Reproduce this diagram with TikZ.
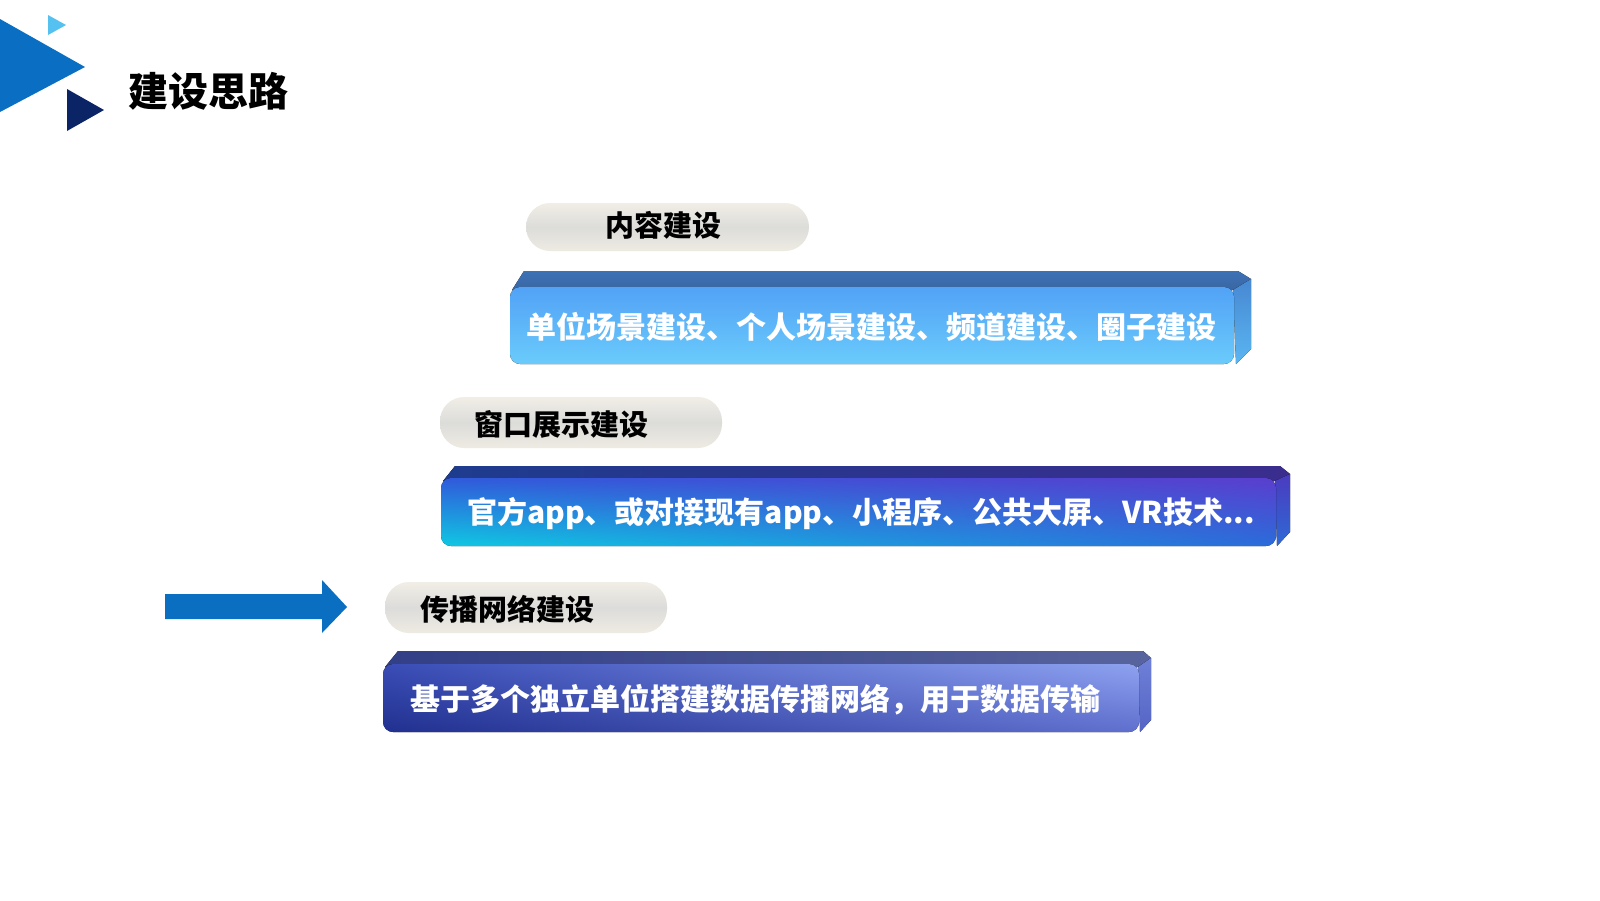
\documentclass[tikz,border=0pt]{standalone}
\usepackage{fontspec}
\setmainfont{Noto Sans CJK SC}
\usetikzlibrary{shadings}
\definecolor{tribig}{HTML}{0A6FC2}
\definecolor{trilight}{HTML}{55C1F0}
\definecolor{tridark}{HTML}{0B2466}
\definecolor{arrowblue}{HTML}{0A6FC0}
\definecolor{pilltop}{HTML}{F1EEE6}
\definecolor{pillmid}{HTML}{DCDCDA}
\definecolor{pillbot}{HTML}{EEEBE2}
% bar 1
\definecolor{aTopA}{HTML}{3D72B6}
\definecolor{aTopB}{HTML}{3A66A2}
\definecolor{aSideA}{HTML}{4788D2}
\definecolor{aSideB}{HTML}{5AB6F2}
\definecolor{aFrontA}{HTML}{52A2F6}
\definecolor{aFrontB}{HTML}{6ACBFB}
% bar 2
\definecolor{bTopA}{HTML}{1E3C8E}
\definecolor{bTopB}{HTML}{3A2D8E}
\definecolor{bSideA}{HTML}{4A3BC0}
\definecolor{bSideB}{HTML}{2E6AD6}
\definecolor{bUL}{HTML}{2F5ADB}
\definecolor{bLL}{HTML}{0FC8E2}
\definecolor{bUR}{HTML}{5A3ECE}
\definecolor{bLR}{HTML}{2A6CDA}
% bar 3
\definecolor{cTopA}{HTML}{333F86}
\definecolor{cTopB}{HTML}{57649E}
\definecolor{cSideA}{HTML}{6E80D8}
\definecolor{cSideB}{HTML}{5564C4}
\definecolor{cUL}{HTML}{3A4DB6}
\definecolor{cLL}{HTML}{21308F}
\definecolor{cUR}{HTML}{8EA2F0}
\definecolor{cLR}{HTML}{5F6FCE}
\tikzset{
  pill/.style={rounded corners=24pt, top color=pilltop, bottom color=pillbot, middle color=pillmid, draw=none},
  pilltext/.style={anchor=west, inner sep=0pt, text=black, font=\fontsize{29}{34}\selectfont\bfseries},
  bartext/.style={anchor=west, inner sep=0pt, text=white, font=\fontsize{30}{36}\selectfont\bfseries},
}
\begin{document}
\begin{tikzpicture}[x=1pt,y=-1pt]
\useasboundingbox[fill=white] (0,0) rectangle (1600,900);
% corner triangles
\fill[tribig] (0,19) -- (85,67) -- (0,112) -- cycle;
\fill[trilight] (48,15) -- (66,25) -- (48,35) -- cycle;
\fill[tridark] (67,89) -- (104,110) -- (67,131) -- cycle;
\node[anchor=west, inner sep=0pt, font=\fontsize{40}{48}\selectfont\bfseries] (title) at (128,91) {建设思路};

% ---------- row 1 ----------
\path[pill] (526,203) rectangle (809,251);
\node[pilltext] (p1) at (605,225) {内容建设};
\fill[top color=aTopA, bottom color=aTopB] (512,290) -- (524,271) -- (1238,271) -- (1251,279) -- (1233,290) -- cycle;
\fill[top color=aSideA, bottom color=aSideB] (1233,290) -- (1251,279) -- (1251,349) -- (1236,364) -- cycle;
\fill[rounded corners=10pt, top color=aFrontA, bottom color=aFrontB] (510,287) rectangle (1234,364);
\node[bartext] (b1) at (526,327) {单位场景建设、个人场景建设、频道建设、圈子建设};

% ---------- row 2 ----------
\path[pill] (440,397) rectangle (722,448);
\node[pilltext] (p2) at (474,424) {窗口展示建设};
\fill[left color=bTopA, right color=bTopB] (443,481) -- (455,466) -- (1280,466) -- (1290,474) -- (1275,481) -- cycle;
\fill[top color=bSideA, bottom color=bSideB] (1275,481) -- (1290,474) -- (1290,532) -- (1277,546) -- cycle;
\fill[rounded corners=10pt, upper left=bUL, lower left=bLL, upper right=bUR, lower right=bLR] (441,478) rectangle (1276,546);
\node[bartext] (b2) at (467,514) {官方app、或对接现有app、小程序、公共大屏、VR技术...};

% ---------- row 3 ----------
\fill[arrowblue] (165,594) -- (322,594) -- (322,580) -- (347,607) -- (322,633) -- (322,619) -- (165,619) -- cycle;
\path[pill] (385,582) rectangle (667,633);
\node[pilltext] (p3) at (420,609) {传播网络建设};
\fill[left color=cTopA, right color=cTopB] (385,667) -- (398,651) -- (1143,651) -- (1151,658) -- (1138,667) -- cycle;
\fill[top color=cSideA, bottom color=cSideB] (1138,667) -- (1151,658) -- (1151,720) -- (1140,732) -- cycle;
\fill[rounded corners=10pt, upper left=cUL, lower left=cLL, upper right=cUR, lower right=cLR] (383,664) rectangle (1139,732);
\node[bartext] (b3) at (410,700) {基于多个独立单位搭建数据传播网络，用于数据传输};
\end{tikzpicture}
\end{document}
